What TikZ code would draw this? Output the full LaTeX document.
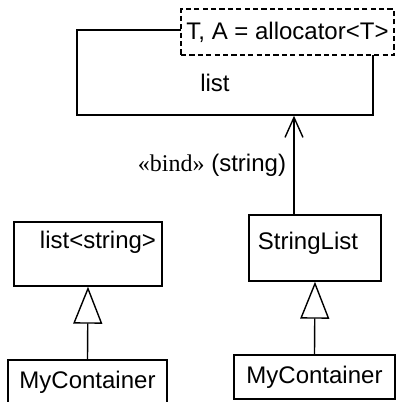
\documentclass[tikz,border=0pt]{standalone}
\usepackage{fontspec}
\setmainfont{Liberation Sans}
\newfontfamily\serifface{Liberation Serif}
\usetikzlibrary{arrows.meta}

\begin{document}
\begin{tikzpicture}[x=0.5pt, y=-0.5pt, line width=0.7pt,
		box/.style={draw, rectangle, inner sep=0pt, font=\fontsize{12}{14}\selectfont},
		lbl/.style={inner sep=0pt, font=\fontsize{12}{14}\selectfont},
		inherit/.style={-{Triangle[open, length=18.5pt, width=14.5pt]}},
		bindarrow/.style={-{Straight Barb[length=10pt, width=9pt]}}]
	\useasboundingbox (0,0) rectangle (398,402);
	
	% template class with its parameter box
	\node[box, minimum width=148pt, minimum height=42.5pt] (listbox) at (225,72.5) {};
	\node[box, dash pattern=on 2.6pt off 1.6pt, fill=white, minimum width=106.5pt, minimum height=23pt] (params) at (287.5,32) {T, A = allocator<T>};
	\node[lbl] (listname) at (215,83) {list};
	
	% bound classes
	\node[box, minimum width=74pt, minimum height=32pt] (liststr) at (88,254) {};
	\node[lbl] (liststrname) at (98,242) {list<string>};
	\node[box, minimum width=66pt, minimum height=33pt] (strlist) at (315,248) {};
	\node[lbl] (strlistname) at (308,243) {StringList};
	
	% subclasses
	\node[box, minimum width=79.5pt, minimum height=22.5pt] (contleft) at (87.5,382.5) {MyContainer};
	\node[box, minimum width=80.5pt, minimum height=22pt] (contright) at (314.5,377) {MyContainer};
	
	\draw[bindarrow] ([xshift=-10.5pt]strlist.north) -- ([xshift=-10.5pt]strlist.north |- listbox.south);
	\node[lbl] (bindlbl) at (212,165) {{\serifface «bind»} (string)};
	
	\draw[inherit] (contleft.north) -- (liststr.south);
	\draw[inherit] (contright.north) -- (strlist.south);
\end{tikzpicture}
\end{document}
